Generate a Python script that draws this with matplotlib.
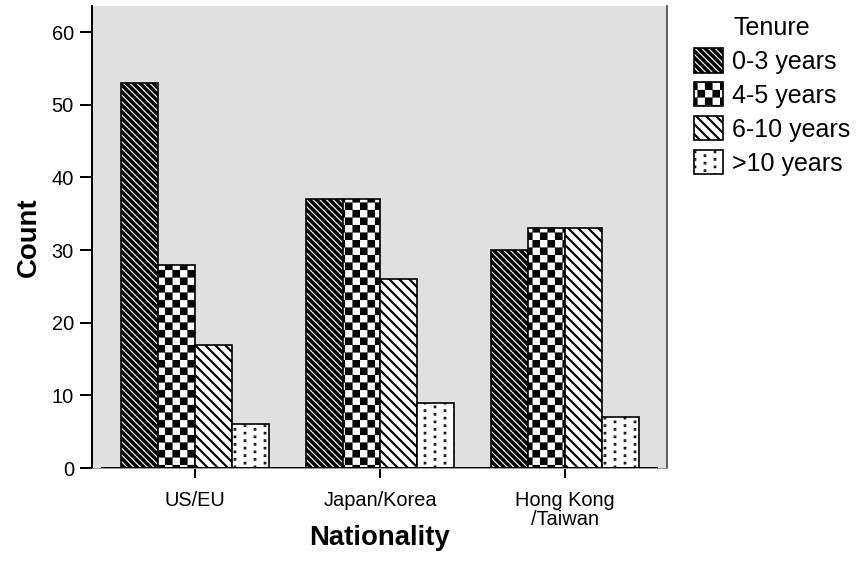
import warnings
import matplotlib
matplotlib.use('Agg')
import matplotlib.pyplot as plt
import matplotlib.hatch as mhatch
from matplotlib.legend_handler import HandlerPatch
from matplotlib.patches import Patch, Rectangle
from matplotlib.path import Path
import numpy as np

warnings.filterwarnings('ignore')

plt.rcParams['font.family'] = ['Liberation Sans', 'DejaVu Sans']
plt.rcParams['hatch.linewidth'] = 1.3

nationality = ['US/EU', 'Japan/Korea', 'Hong Kong\n/Taiwan']
tenure = ['0-3 years', '4-5 years', '6-10 years', '>10 years']
count_0_3 = [53, 37, 30]
count_4_5 = [28, 37, 33]
count_6_10 = [17, 26, 33]
count_10_plus = [6, 9, 7]

DPI = 120
DENSE_SE = '\\' * 6   # white lines on black, ~6.7 px apart
SPARSE_SE = '\\' * 4  # black lines on white, ~10 px apart
THIN_HATCH = 0.7


# extra hatch patterns: 'c' = checkerboard, 'd' = small staggered dots
class CheckerHatch(mhatch.HatchPatternBase):
    def __init__(self, hatch, density):
        self.n = 16 * hatch.count('c')
        self.num_vertices = 5 * (self.n * self.n // 2)

    def set_vertices_and_codes(self, vertices, codes):
        step = 1.0 / self.n
        g = 1.0 / DPI  # leave room for the hatch stroke
        k = 0
        for i in range(self.n):
            for j in range(self.n):
                if (i + j) % 2:
                    continue
                x0, y0 = i * step + g, j * step + g
                x1, y1 = (i + 1) * step - g, (j + 1) * step - g
                vertices[k:k + 5] = [(x0, y0), (x1, y0), (x1, y1), (x0, y1), (x0, y0)]
                codes[k:k + 5] = [Path.MOVETO, Path.LINETO, Path.LINETO,
                                  Path.LINETO, Path.CLOSEPOLY]
                k += 5


class DotHatch(mhatch.HatchPatternBase):
    def __init__(self, hatch, density):
        self.cols = 12 * hatch.count('d')
        self.rows = 16 * hatch.count('d')
        self.num_vertices = 5 * self.cols * self.rows

    def set_vertices_and_codes(self, vertices, codes):
        s = 0.25 / DPI
        k = 0
        for i in range(self.cols):
            for j in range(self.rows):
                cx = (i + 0.5) / self.cols
                cy = (j + 0.25 + 0.5 * (i % 2)) / self.rows
                vertices[k:k + 5] = [(cx - s, cy - s), (cx + s, cy - s), (cx + s, cy + s),
                                     (cx - s, cy + s), (cx - s, cy - s)]
                codes[k:k + 5] = [Path.MOVETO, Path.LINETO, Path.LINETO,
                                  Path.LINETO, Path.CLOSEPOLY]
                k += 5


mhatch._hatch_types.append(CheckerHatch)
mhatch._hatch_types.append(DotHatch)


def thin_hatch(patch):
    # hatch line width is a global setting, so switch it while this patch draws
    orig_draw = patch.draw

    def draw(renderer):
        with plt.rc_context({'hatch.linewidth': THIN_HATCH}):
            orig_draw(renderer)
    patch.draw = draw
    if hasattr(patch, 'set_hatch_linewidth'):
        patch.set_hatch_linewidth(THIN_HATCH)
    return patch


def thin_legend_patch(legend, orig_handle, xdescent, ydescent, width, height, fontsize):
    return thin_hatch(Rectangle((-xdescent, -ydescent), width, height))


fig = plt.figure(figsize=(861 / DPI, 585 / DPI), dpi=DPI)
ax = fig.add_axes([92 / 861, 117 / 585, 575 / 861, 462 / 585])
ax.set_facecolor('#e0e0e0')

x = np.arange(len(nationality))
width = 0.2

# 0-3 years: white lines on black, outline drawn on top
bars = ax.bar(x - 0.3, count_0_3, width, color='black', edgecolor='white',
              hatch=DENSE_SE, linewidth=0)
for b in bars:
    thin_hatch(b)
ax.bar(x - 0.3, count_0_3, width, fill=False, edgecolor='black', linewidth=1.0)
ax.bar(x - 0.1, count_4_5, width, color='white', edgecolor='black', hatch='c', linewidth=1.0)
ax.bar(x + 0.1, count_6_10, width, color='white', edgecolor='black', hatch=SPARSE_SE, linewidth=1.0)
ax.bar(x + 0.3, count_10_plus, width, color='white', edgecolor='black', hatch='d', linewidth=1.0)

ax.axhline(0, xmin=0.018, xmax=0.983, color='black', linewidth=1.2)

ax.set_xlim(-0.557, 2.551)
ax.set_ylim(0, 63.6)
ax.set_yticks(range(0, 61, 10))
ax.set_xticks(x, nationality)
ax.tick_params(axis='x', length=6, width=1.2, pad=8, labelsize=12)
ax.tick_params(axis='y', length=7.2, width=1.2, pad=3.6, labelsize=12)
for lab in ax.get_xticklabels():
    lab.set_linespacing(1.0)

ax.spines['top'].set_visible(False)
ax.spines['right'].set_color('#444444')
ax.spines['right'].set_linewidth(1.0)
ax.spines['left'].set_linewidth(1.2)
ax.spines['bottom'].set_color('#999999')
ax.spines['bottom'].set_linewidth(0.6)

ax.set_xlabel('Nationality', fontsize=16.5, fontweight='bold', va='center')
ax.xaxis.set_label_coords(0.5, (468 - 538) / 462)
ax.set_ylabel('Count', fontsize=16.5, fontweight='bold', va='center')
ax.yaxis.set_label_coords((29 - 92) / 575, 0.5)

h1 = Patch(facecolor='black', edgecolor='white', hatch=DENSE_SE, linewidth=0)
handles = [(h1, Patch(fill=False, edgecolor='black', linewidth=1.0)),
           Patch(facecolor='white', edgecolor='black', hatch='c', linewidth=1.0),
           Patch(facecolor='white', edgecolor='black', hatch=SPARSE_SE, linewidth=1.0),
           Patch(facecolor='white', edgecolor='black', hatch='d', linewidth=1.0)]
fig.legend(handles, tenure, title='Tenure', loc='upper left',
           bbox_to_anchor=(694 / 861, 1 - 16 / 585), frameon=False,
           fontsize=15, title_fontsize=15, handlelength=1.16, handleheight=1.12,
           handletextpad=0.36, labelspacing=0.33, borderpad=0, borderaxespad=0,
           handler_map={h1: HandlerPatch(patch_func=thin_legend_patch)})

fig.savefig('out.png', dpi=DPI)
